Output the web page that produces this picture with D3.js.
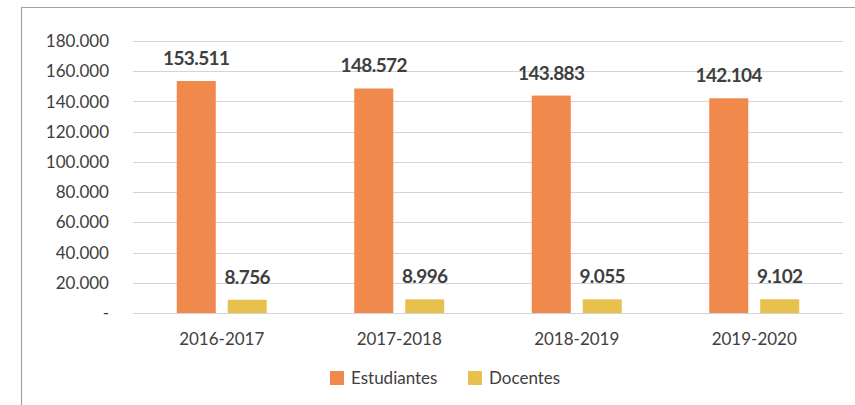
<!DOCTYPE html>
<html>
<head>
<meta charset="utf-8">
<script src="https://cdn.jsdelivr.net/npm/d3@7"></script>
<style>
  body { margin: 0; background: #fff; }
  svg { font-family: Lato, "Open Sans", sans-serif; }
</style>
</head>
<body>
<svg width="855" height="405"></svg>
<script>
const years = ["2016-2017", "2017-2018", "2018-2019", "2019-2020"];
const series = ["Estudiantes", "Docentes"];
const estudiantes = [153511, 148572, 143883, 142104];
const docentes = [8756, 8996, 9055, 9102];
const yTicks = [0, 20000, 40000, 60000, 80000, 100000, 120000, 140000, 160000, 180000];
const colors = ["#F0894C", "#E8C04E"];

const svg = d3.select("svg");
const fmt = v => v === 0 ? "-" : d3.format(",")(v).replace(/,/g, ".");

// frame (cropped box)
svg.append("path")
   .attr("d", "M21.5,405 V7.5 H855")
   .attr("fill", "none")
   .attr("stroke", "#a3a3a3")
   .attr("stroke-width", 1.2);

let y = d3.scaleLinear().domain([0, 180000]).range([313, 41]);
let x0 = d3.scaleBand().domain(years).range([133, 843]).paddingInner(0.493).paddingOuter(0.2465);
let x1 = d3.scaleBand().domain(series).range([0, x0.bandwidth()]).paddingInner(0.235);

// grid
svg.append("g")
   .selectAll("line")
   .data(yTicks)
   .enter()
   .append("line")
   .attr("x1", 133)
   .attr("x2", 843)
   .attr("y1", d => Math.round(y(d)) + 0.5)
   .attr("y2", d => Math.round(y(d)) + 0.5)
   .attr("stroke", "#d4d4d4")
   .attr("stroke-width", 1);

// y labels
svg.append("g")
   .selectAll("text")
   .data(yTicks)
   .enter()
   .append("text")
   .attr("x", 109)
   .attr("y", d => y(d))
   .attr("dy", "0.36em")
   .attr("text-anchor", "end")
   .attr("font-size", "17px")
   .attr("fill", "#404040")
   .text(d => fmt(d));

// x labels
svg.append("g")
   .selectAll("text")
   .data(years)
   .enter()
   .append("text")
   .attr("x", d => x0(d) + x0.bandwidth() / 2)
   .attr("y", 345)
   .attr("text-anchor", "middle")
   .attr("font-size", "17px")
   .attr("fill", "#404040")
   .text(d => d);

let rows = [];
years.forEach((yr, i) => {
  rows.push({ year: yr, key: "Estudiantes", value: estudiantes[i], color: colors[0] });
  rows.push({ year: yr, key: "Docentes", value: docentes[i], color: colors[1] });
});

let bar = svg.append("g")
             .selectAll("g")
             .data(rows)
             .enter()
             .append("g");

bar.append("rect")
   .attr("x", d => x0(d.year) + x1(d.key))
   .attr("y", d => y(d.value))
   .attr("width", x1.bandwidth())
   .attr("height", d => y(0) - y(d.value))
   .attr("fill", d => d.color);

bar.append("text")
   .attr("x", d => x0(d.year) + x1(d.key) + x1.bandwidth() / 2)
   .attr("y", d => y(d.value) - 16)
   .attr("text-anchor", "middle")
   .attr("font-size", "19px")
   .attr("font-weight", "bold")
   .attr("letter-spacing", "-0.6px")
   .attr("fill", "#3f3f3f")
   .text(d => fmt(d.value));

// legend
let legendX = [330, 468];
let legend = svg.append("g")
                .selectAll("g")
                .data(series)
                .enter()
                .append("g")
                .attr("transform", (d, i) => "translate(" + legendX[i] + ",371)");

legend.append("rect")
      .attr("width", 14)
      .attr("height", 14)
      .attr("fill", (d, i) => colors[i]);

legend.append("text")
      .attr("x", 21)
      .attr("y", 7)
      .attr("dy", "0.36em")
      .attr("font-size", "17px")
      .attr("fill", "#404040")
      .text(d => d);
</script>
</body>
</html>
